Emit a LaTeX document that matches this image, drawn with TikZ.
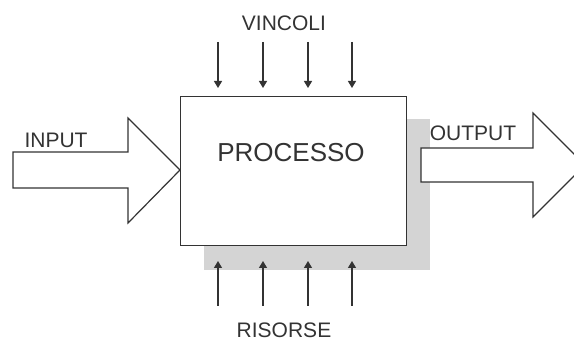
\documentclass[tikz,border=0pt]{standalone}
\usepackage{fontspec}
\setmainfont{Liberation Sans}
\usetikzlibrary{arrows.meta}
\definecolor{ink}{HTML}{333333}
\definecolor{shadowgray}{HTML}{D4D4D4}
\begin{document}
\begin{tikzpicture}[x=1pt,y=-1pt,
  lbl/.style={font=\fontsize{21}{21}\selectfont, text=ink, inner sep=0pt},
  blockarrow/.style={draw=ink, line width=1.2pt, fill=white, line join=miter},
  thin arrow/.style={draw=ink, line width=1.2pt, -{Triangle[length=7pt,width=8pt]}},
  procbox/.style={draw=ink, line width=1.4pt, fill=white, minimum width=226pt, minimum height=149pt, inner sep=0pt, anchor=north west}]
\useasboundingbox (0,0) rectangle (574,342);
% shadow
\fill[shadowgray] (204,119) rectangle (430,270);
% box
\node[procbox] (box) at (180,96) {};
\node[lbl, font=\fontsize{26}{26}\selectfont] (proc) at (291,153) {PROCESSO};
% input block arrow
\draw[blockarrow] (13,152) -- (128,152) -- (128,118) -- (180,170) -- (128,223) -- (128,188) -- (13,188) -- cycle;
\node[lbl] (in) at (56,140) {INPUT};
% output block arrow
\draw[blockarrow] (421,148) -- (533,148) -- (533,113) -- (585,165) -- (533,217) -- (533,182) -- (421,182) -- cycle;
\node[lbl] (out) at (473,133) {OUTPUT};
% labels
\node[lbl] (vin) at (284,23) {VINCOLI};
\node[lbl] (ris) at (284,330) {RISORSE};
% vertical arrows
\foreach \i/\x in {1/218,2/263,3/308,4/352} {
  \coordinate (vt\i) at (\x,42);
  \coordinate (vb\i) at (\x,88);
  \coordinate (rt\i) at (\x,261);
  \coordinate (rb\i) at (\x,306);
  \draw[thin arrow] (vt\i) -- (vb\i);
  \draw[thin arrow] (rb\i) -- (rt\i);
}
\end{tikzpicture}
\end{document}
